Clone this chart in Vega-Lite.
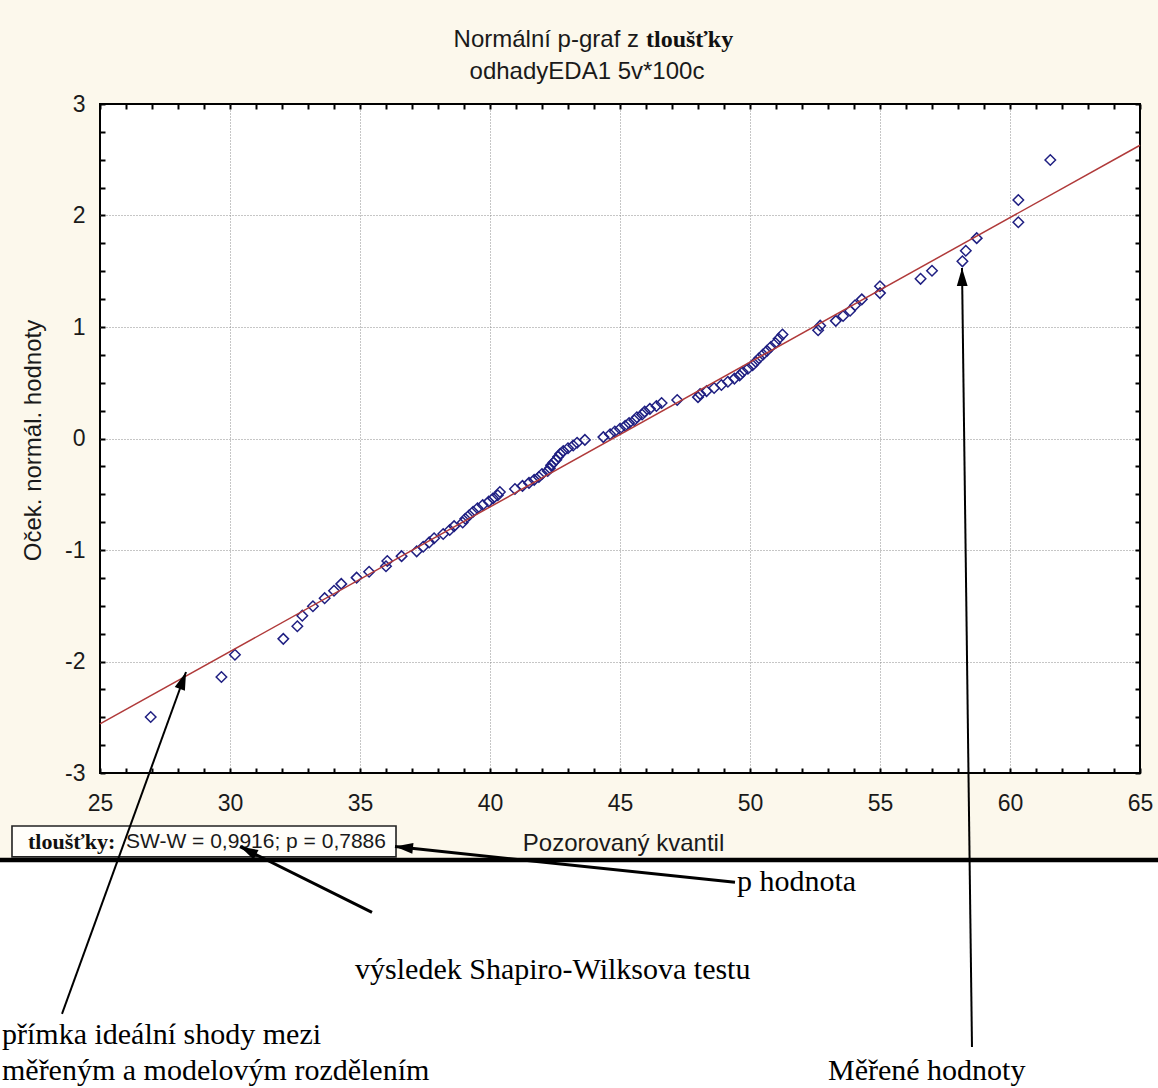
{
  "$schema": "https://vega.github.io/schema/vega-lite/v6.json",
  "width": 1040,
  "height": 669,
  "autosize": {"type": "none"},
  "padding": {"left": 100, "top": 104, "right": 18, "bottom": 315},
  "config": {
    "background": "#fcf8ec",
    "view": {"fill": "white", "stroke": "#000000", "strokeWidth": 2},
    "axis": {
      "domain": false,
      "labelFont": "Liberation Sans",
      "labelFontSize": 23,
      "labelColor": "#1a1a1a",
      "labelFlush": false,
      "labelOverlap": false,
      "labelBound": false,
      "titleFont": "Liberation Sans",
      "titleFontSize": 24,
      "titleFontWeight": "normal",
      "titleColor": "#1a1a1a",
      "tickColor": "#000000",
      "tickWidth": 2,
      "tickOpacity": 1,
      "gridColor": "#8c8c8c",
      "gridDash": [1, 2],
      "gridWidth": 1
    }
  },
  "resolve": {"axis": {"x": "independent", "y": "independent"}},
  "layer": [
    {
      "description": "white page area below the graph window; also carries the inner ticks of the bottom and left edges",
      "data": {"values": [{"x1": 20, "x2": 67, "y1": -3.78, "y2": -6.5}]},
      "mark": {"type": "rect", "fill": "white", "clip": false},
      "encoding": {
        "x": {
          "field": "x1", "type": "quantitative",
          "axis": {
            "orient": "bottom", "offset": -5, "ticks": true, "tickSize": 5, "labels": false, "grid": false, "title": null,
            "values": [25,26,27,28,29,30,31,32,33,34,35,36,37,38,39,40,41,42,43,44,45,46,47,48,49,50,51,52,53,54,55,56,57,58,59,60,61,62,63,64,65]
          }
        },
        "x2": {"field": "x2"},
        "y": {
          "field": "y1", "type": "quantitative",
          "axis": {
            "orient": "left", "offset": -5, "ticks": true, "tickSize": 5, "labels": false, "grid": false, "title": null,
            "values": [-3,-2.75,-2.5,-2.25,-2,-1.75,-1.5,-1.25,-1,-0.75,-0.5,-0.25,0,0.25,0.5,0.75,1,1.25,1.5,1.75,2,2.25,2.5,2.75,3]
          }
        },
        "y2": {"field": "y2"}
      }
    },
    {
      "description": "heavy separator under the graph window",
      "data": {"values": [{"x1": 20, "x2": 67, "y": -3.78}]},
      "mark": {"type": "rule", "color": "#000000", "strokeWidth": 4.5, "clip": false},
      "encoding": {
        "x": {"field": "x1", "type": "quantitative", "axis": null},
        "x2": {"field": "x2"},
        "y": {"field": "y", "type": "quantitative", "axis": null}
      }
    },
    {
      "description": "observed quantiles against expected normal scores",
      "data": {"values": [
        {"kvantil": 26.95, "z": -2.498}, {"kvantil": 29.67, "z": -2.139}, {"kvantil": 30.19, "z": -1.94},
        {"kvantil": 32.05, "z": -1.797}, {"kvantil": 32.59, "z": -1.684}, {"kvantil": 32.78, "z": -1.589},
        {"kvantil": 33.19, "z": -1.505}, {"kvantil": 33.64, "z": -1.432}, {"kvantil": 34.0, "z": -1.366},
        {"kvantil": 34.28, "z": -1.304}, {"kvantil": 34.87, "z": -1.248}, {"kvantil": 35.35, "z": -1.195},
        {"kvantil": 36.0, "z": -1.146}, {"kvantil": 36.05, "z": -1.099}, {"kvantil": 36.6, "z": -1.055},
        {"kvantil": 37.18, "z": -1.012}, {"kvantil": 37.43, "z": -0.971}, {"kvantil": 37.66, "z": -0.932},
        {"kvantil": 37.85, "z": -0.894}, {"kvantil": 38.2, "z": -0.857}, {"kvantil": 38.45, "z": -0.821},
        {"kvantil": 38.62, "z": -0.786}, {"kvantil": 38.95, "z": -0.753}, {"kvantil": 39.05, "z": -0.72},
        {"kvantil": 39.2, "z": -0.688}, {"kvantil": 39.35, "z": -0.657}, {"kvantil": 39.52, "z": -0.626},
        {"kvantil": 39.72, "z": -0.596}, {"kvantil": 39.95, "z": -0.566}, {"kvantil": 40.12, "z": -0.537},
        {"kvantil": 40.3, "z": -0.509}, {"kvantil": 40.38, "z": -0.48}, {"kvantil": 40.96, "z": -0.453},
        {"kvantil": 41.25, "z": -0.425}, {"kvantil": 41.5, "z": -0.398}, {"kvantil": 41.7, "z": -0.371},
        {"kvantil": 41.88, "z": -0.345}, {"kvantil": 42.0, "z": -0.319}, {"kvantil": 42.22, "z": -0.292},
        {"kvantil": 42.3, "z": -0.266}, {"kvantil": 42.35, "z": -0.241}, {"kvantil": 42.44, "z": -0.215},
        {"kvantil": 42.55, "z": -0.19}, {"kvantil": 42.62, "z": -0.164}, {"kvantil": 42.7, "z": -0.138},
        {"kvantil": 42.82, "z": -0.113}, {"kvantil": 43.0, "z": -0.088}, {"kvantil": 43.2, "z": -0.063},
        {"kvantil": 43.35, "z": -0.038}, {"kvantil": 43.65, "z": -0.0125}, {"kvantil": 44.36, "z": 0.0125},
        {"kvantil": 44.62, "z": 0.038}, {"kvantil": 44.8, "z": 0.063}, {"kvantil": 45.0, "z": 0.088},
        {"kvantil": 45.2, "z": 0.113}, {"kvantil": 45.35, "z": 0.138}, {"kvantil": 45.55, "z": 0.164},
        {"kvantil": 45.65, "z": 0.19}, {"kvantil": 45.85, "z": 0.215}, {"kvantil": 45.95, "z": 0.241},
        {"kvantil": 46.15, "z": 0.266}, {"kvantil": 46.4, "z": 0.292}, {"kvantil": 46.6, "z": 0.319},
        {"kvantil": 47.2, "z": 0.345}, {"kvantil": 48.0, "z": 0.371}, {"kvantil": 48.08, "z": 0.398},
        {"kvantil": 48.33, "z": 0.425}, {"kvantil": 48.62, "z": 0.453}, {"kvantil": 48.9, "z": 0.48},
        {"kvantil": 49.15, "z": 0.509}, {"kvantil": 49.4, "z": 0.537}, {"kvantil": 49.6, "z": 0.566},
        {"kvantil": 49.72, "z": 0.596}, {"kvantil": 49.92, "z": 0.626}, {"kvantil": 50.1, "z": 0.657},
        {"kvantil": 50.22, "z": 0.688}, {"kvantil": 50.35, "z": 0.72}, {"kvantil": 50.5, "z": 0.753},
        {"kvantil": 50.65, "z": 0.786}, {"kvantil": 50.8, "z": 0.821}, {"kvantil": 50.98, "z": 0.857},
        {"kvantil": 51.1, "z": 0.894}, {"kvantil": 51.25, "z": 0.932}, {"kvantil": 52.62, "z": 0.971},
        {"kvantil": 52.7, "z": 1.012}, {"kvantil": 53.3, "z": 1.055}, {"kvantil": 53.58, "z": 1.099},
        {"kvantil": 53.85, "z": 1.146}, {"kvantil": 54.04, "z": 1.195}, {"kvantil": 54.3, "z": 1.248},
        {"kvantil": 55.0, "z": 1.304}, {"kvantil": 55.0, "z": 1.366}, {"kvantil": 56.56, "z": 1.432},
        {"kvantil": 57.0, "z": 1.505}, {"kvantil": 58.17, "z": 1.589}, {"kvantil": 58.3, "z": 1.684},
        {"kvantil": 58.72, "z": 1.797}, {"kvantil": 60.32, "z": 1.94}, {"kvantil": 60.32, "z": 2.139},
        {"kvantil": 61.55, "z": 2.498}
      ]},
      "mark": {"type": "point", "shape": "diamond", "size": 110, "filled": false, "stroke": "#1f1f82", "strokeWidth": 1.5, "opacity": 1},
      "encoding": {
        "x": {
          "field": "kvantil", "type": "quantitative",
          "scale": {"domain": [25, 65], "nice": false, "zero": false},
          "axis": {
            "orient": "bottom",
            "title": "Pozorovaný kvantil",
            "titleX": 523, "titleY": 70, "titleBaseline": "middle", "titleAlign": "center",
            "values": [25,30,35,40,45,50,55,60,65],
            "ticks": false, "tickSize": 0,
            "labelExpr": "'' + datum.value",
            "labelPadding": 19,
            "grid": true,
            "gridOpacity": {"condition": {"test": "datum.value > 25 && datum.value < 65", "value": 1}, "value": 0}
          }
        },
        "y": {
          "field": "z", "type": "quantitative",
          "scale": {"domain": [-3, 3], "nice": false, "zero": false},
          "axis": {
            "orient": "left",
            "title": "Oček. normál. hodnoty",
            "titleX": -67, "titleY": 336, "titleAngle": 270, "titleBaseline": "middle", "titleAlign": "center",
            "values": [-3,-2,-1,0,1,2,3],
            "ticks": false, "tickSize": 0,
            "labelExpr": "'' + datum.value",
            "labelPadding": 15,
            "grid": true,
            "gridOpacity": {"condition": {"test": "datum.value > -3 && datum.value < 3", "value": 1}, "value": 0}
          }
        }
      }
    },
    {
      "description": "reference line of the fitted normal distribution; also carries the inner ticks of the top and right edges",
      "data": {"values": [{"x1": 25, "y1": -2.56, "x2": 65, "y2": 2.63}]},
      "mark": {"type": "rule", "color": "#b03a3a", "strokeWidth": 1.5},
      "encoding": {
        "x": {
          "field": "x1", "type": "quantitative",
          "axis": {
            "orient": "top", "offset": -5, "ticks": true, "tickSize": 5, "title": null, "labels": false, "grid": false,
            "values": [25,26,27,28,29,30,31,32,33,34,35,36,37,38,39,40,41,42,43,44,45,46,47,48,49,50,51,52,53,54,55,56,57,58,59,60,61,62,63,64,65]
          }
        },
        "x2": {"field": "x2"},
        "y": {
          "field": "y1", "type": "quantitative",
          "axis": {
            "orient": "right", "offset": -5, "ticks": true, "tickSize": 5, "title": null, "labels": false, "grid": false,
            "values": [-3,-2.75,-2.5,-2.25,-2,-1.75,-1.5,-1.25,-1,-0.75,-0.5,-0.25,0,0.25,0.5,0.75,1,1.25,1.5,1.75,2,2.25,2.5,2.75,3]
          }
        },
        "y2": {"field": "y2"}
      }
    },
    {
      "description": "title, sans part",
      "data": {"values": [
        {"x": 45.73, "y": 3.574, "text": "Normální p-graf z"}
      ]},
      "mark": {"type": "text", "font": "Liberation Sans", "fontSize": 24, "align": "right", "baseline": "middle", "color": "#1a1a1a"},
      "encoding": {
        "x": {"field": "x", "type": "quantitative", "axis": null},
        "y": {"field": "y", "type": "quantitative", "axis": null},
        "text": {"field": "text"}
      }
    },
    {
      "description": "title, variable name",
      "data": {"values": [
        {"x": 46.0, "y": 3.574, "text": "tloušťky"}
      ]},
      "mark": {"type": "text", "font": "Liberation Serif", "fontSize": 24, "fontWeight": "bold", "align": "left", "baseline": "middle", "color": "#111111"},
      "encoding": {
        "x": {"field": "x", "type": "quantitative", "axis": null},
        "y": {"field": "y", "type": "quantitative", "axis": null},
        "text": {"field": "text"}
      }
    },
    {
      "description": "subtitle",
      "data": {"values": [
        {"x": 43.73, "y": 3.287, "text": "odhadyEDA1 5v*100c"}
      ]},
      "mark": {"type": "text", "font": "Liberation Sans", "fontSize": 24, "align": "center", "baseline": "middle", "color": "#1a1a1a"},
      "encoding": {
        "x": {"field": "x", "type": "quantitative", "axis": null},
        "y": {"field": "y", "type": "quantitative", "axis": null},
        "text": {"field": "text"}
      }
    },
    {
      "description": "frame of the test result",
      "data": {"values": [{"x1": 21.615, "x2": 36.385, "y1": -3.475, "y2": -3.752}]},
      "mark": {"type": "rect", "fill": "#fffefa", "stroke": "#222222", "strokeWidth": 1.6, "clip": false},
      "encoding": {
        "x": {"field": "x1", "type": "quantitative", "axis": null},
        "x2": {"field": "x2"},
        "y": {"field": "y1", "type": "quantitative", "axis": null},
        "y2": {"field": "y2"}
      }
    },
    {
      "description": "test result, variable name",
      "data": {"values": [{"x": 22.23, "y": -3.615, "text": "tloušťky:"}]},
      "mark": {"type": "text", "font": "Liberation Serif", "fontSize": 22, "fontWeight": "bold", "align": "left", "baseline": "middle", "color": "#111111"},
      "encoding": {
        "x": {"field": "x", "type": "quantitative", "axis": null},
        "y": {"field": "y", "type": "quantitative", "axis": null},
        "text": {"field": "text"}
      }
    },
    {
      "description": "test result, statistics",
      "data": {"values": [{"x": 26.0, "y": -3.615, "text": "SW-W = 0,9916; p = 0,7886"}]},
      "mark": {"type": "text", "font": "Liberation Sans", "fontSize": 21, "align": "left", "baseline": "middle", "color": "#1a1a1a"},
      "encoding": {
        "x": {"field": "x", "type": "quantitative", "axis": null},
        "y": {"field": "y", "type": "quantitative", "axis": null},
        "text": {"field": "text"}
      }
    },
    {
      "description": "explanatory notes",
      "data": {"values": [
        {"x": 49.5, "y": -3.98, "text": "p hodnota"},
        {"x": 34.81, "y": -4.767, "text": "výsledek Shapiro-Wilksova testu"},
        {"x": 21.23, "y": -5.35, "text": "přímka ideální shody mezi"},
        {"x": 21.23, "y": -5.673, "text": "měřeným a modelovým rozdělením"},
        {"x": 53.0, "y": -5.673, "text": "Měřené hodnoty"}
      ]},
      "mark": {"type": "text", "font": "Liberation Serif", "fontSize": 30, "align": "left", "baseline": "middle", "color": "#000000"},
      "encoding": {
        "x": {"field": "x", "type": "quantitative", "axis": null},
        "y": {"field": "y", "type": "quantitative", "axis": null},
        "text": {"field": "text"}
      }
    },
    {
      "description": "thin arrow shafts",
      "data": {"values": [
        {"x1": 23.538, "y1": -5.161, "x2": 28.308, "y2": -2.094},
        {"x1": 58.538, "y1": -5.457, "x2": 58.154, "y2": 1.529}
      ]},
      "mark": {"type": "rule", "color": "#000000", "strokeWidth": 2, "clip": false},
      "encoding": {
        "x": {"field": "x1", "type": "quantitative", "axis": null},
        "x2": {"field": "x2"},
        "y": {"field": "y1", "type": "quantitative", "axis": null},
        "y2": {"field": "y2"}
      }
    },
    {
      "description": "heavy arrow shafts",
      "data": {"values": [
        {"x1": 35.462, "y1": -4.25, "x2": 30.385, "y2": -3.66},
        {"x1": 49.423, "y1": -3.98, "x2": 36.346, "y2": -3.66}
      ]},
      "mark": {"type": "rule", "color": "#000000", "strokeWidth": 3, "clip": false},
      "encoding": {
        "x": {"field": "x1", "type": "quantitative", "axis": null},
        "x2": {"field": "x2"},
        "y": {"field": "y1", "type": "quantitative", "axis": null},
        "y2": {"field": "y2"}
      }
    },
    {
      "description": "arrow head: fitted line",
      "data": {"values": [{"x": 28.308, "y": -2.094}]},
      "mark": {"type": "point", "shape": "M0,0L-0.6,2L0.6,2Z", "size": 324, "filled": true, "color": "#000000", "opacity": 1, "angle": 20, "clip": false},
      "encoding": {
        "x": {"field": "x", "type": "quantitative", "axis": null},
        "y": {"field": "y", "type": "quantitative", "axis": null}
      }
    },
    {
      "description": "arrow head: W statistic",
      "data": {"values": [{"x": 30.385, "y": -3.66}]},
      "mark": {"type": "point", "shape": "M0,0L-0.6,2L0.6,2Z", "size": 324, "filled": true, "color": "#000000", "opacity": 1, "angle": 297, "clip": false},
      "encoding": {
        "x": {"field": "x", "type": "quantitative", "axis": null},
        "y": {"field": "y", "type": "quantitative", "axis": null}
      }
    },
    {
      "description": "arrow head: p value",
      "data": {"values": [{"x": 36.346, "y": -3.66}]},
      "mark": {"type": "point", "shape": "M0,0L-0.6,2L0.6,2Z", "size": 324, "filled": true, "color": "#000000", "opacity": 1, "angle": 276, "clip": false},
      "encoding": {
        "x": {"field": "x", "type": "quantitative", "axis": null},
        "y": {"field": "y", "type": "quantitative", "axis": null}
      }
    },
    {
      "description": "arrow head: measured values",
      "data": {"values": [{"x": 58.154, "y": 1.529}]},
      "mark": {"type": "point", "shape": "M0,0L-0.6,2L0.6,2Z", "size": 324, "filled": true, "color": "#000000", "opacity": 1, "angle": -0.7, "clip": false},
      "encoding": {
        "x": {"field": "x", "type": "quantitative", "axis": null},
        "y": {"field": "y", "type": "quantitative", "axis": null}
      }
    }
  ]
}
